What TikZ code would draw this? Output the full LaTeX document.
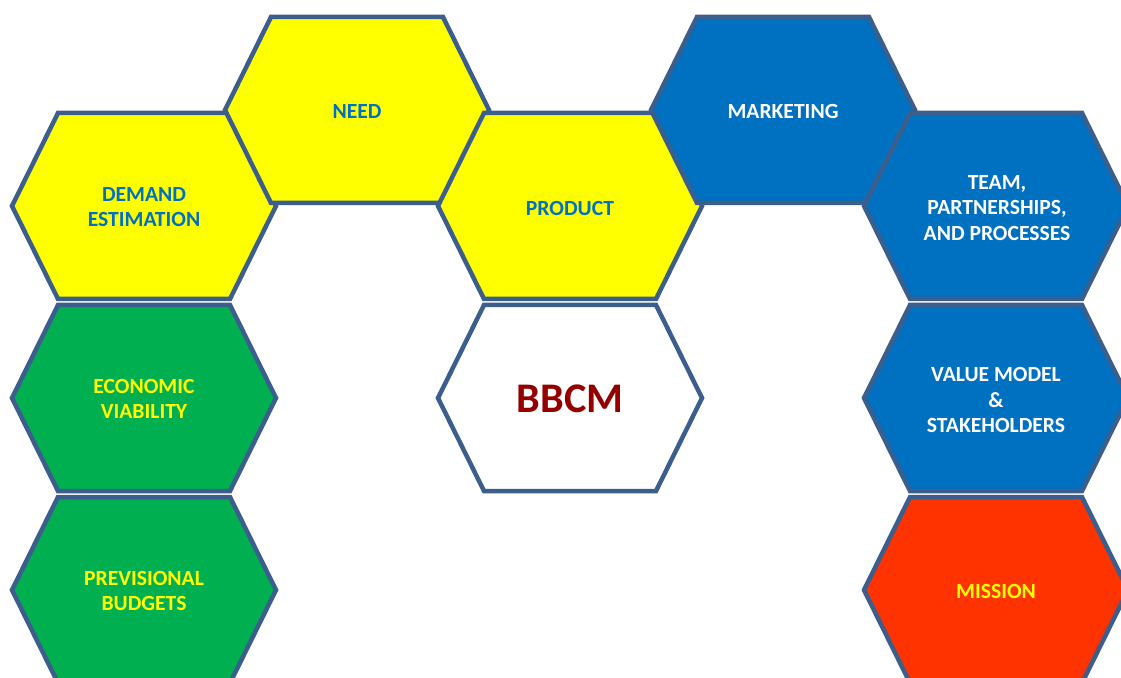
\documentclass[tikz,border=0pt]{standalone}
\usepackage{fontspec}
\setmainfont{Carlito}
\usepackage{tikz}

\definecolor{hexedge}{HTML}{3B5E8C}
\definecolor{hexyellow}{HTML}{FFFF00}
\definecolor{hexblue}{HTML}{0070C0}
\definecolor{hexgreen}{HTML}{00B050}
\definecolor{hexred}{HTML}{FF3300}
\definecolor{bbcmred}{HTML}{940000}

\newcommand\hexpath{++(-132,0) -- ++(46,-93) -- ++(172,0) -- ++(46,93) -- ++(-46,93) -- ++(-172,0) -- cycle}

\begin{document}
\begin{tikzpicture}[x = 0.02cm, y = -0.02cm,
                    hexa/.style = {draw=hexedge, line width=0.09cm, line join=miter},
                    word/.style = {font=\bfseries\fontsize{12.3}{14.7}\selectfont, align=center}]
      \useasboundingbox (0,0) rectangle (1121,678);
      \clip (0,0) rectangle (1121,678);
      % hexagon cells
      \foreach \x/\y/\c in {144/206/hexyellow, 357/110/hexyellow, 570/206/hexyellow,
                            783/110/hexblue, 996/206/hexblue,
                            144/398/hexgreen, 144/590/hexgreen,
                            570/398/white, 996/398/hexblue, 996/590/hexred}
        \filldraw[hexa, fill=\c] (\x,\y) \hexpath;
      % labels
      \node [word, text=hexblue] (demand) at (144, 207) {DEMAND\\ESTIMATION};
      \node [word, text=hexblue] (need) at (357, 111) {NEED};
      \node [word, text=hexblue] (product) at (570, 208) {PRODUCT};
      \node [word, text=white] (marketing) at (783, 111) {MARKETING};
      \node [word, text=white] (team) at (997, 208) {TEAM,\\PARTNERSHIPS,\\AND PROCESSES};
      \node [word, text=hexyellow] (economic) at (144, 399) {ECONOMIC\\VIABILITY};
      \node [word, text=hexyellow] (budgets) at (144, 591) {PREVISIONAL\\BUDGETS};
      \node [word, text=bbcmred, font=\bfseries\fontsize{24}{28}\selectfont] (bbcm) at (570, 399) {BBCM};
      \node [word, text=white] (value) at (996, 400) {VALUE MODEL\\\&\\STAKEHOLDERS};
      \node [word, text=hexyellow] (mission) at (996, 591) {MISSION};
    \end{tikzpicture}
\end{document}
